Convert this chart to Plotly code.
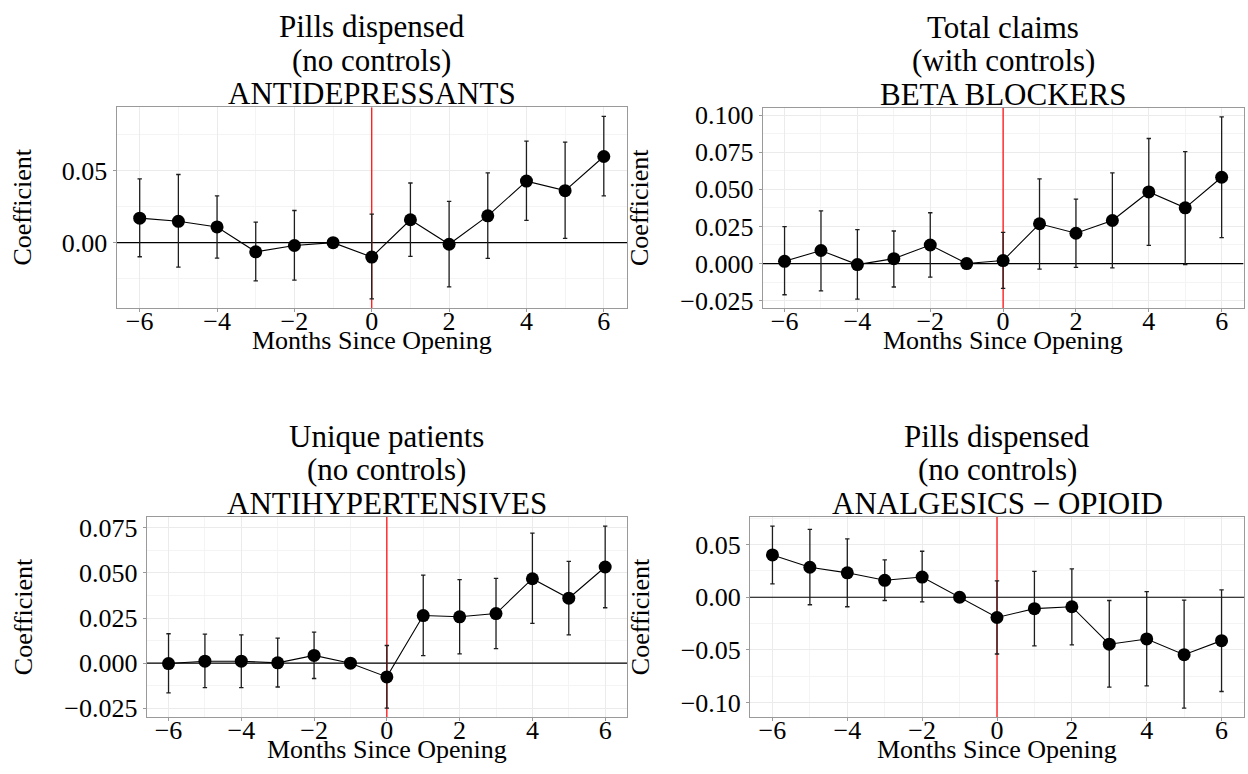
import numpy as np
import plotly.graph_objects as go

# ---------------- data ----------------
MONTHS = [-6, -5, -4, -3, -2, -1, 0, 1, 2, 3, 4, 5, 6]

# Panel 1: Pills dispensed (no controls) ANTIDEPRESSANTS
AD_COEF = [0.0170, 0.0148, 0.0109, -0.0064, -0.0020, 0.0, -0.0100, 0.0159, -0.0011, 0.0186, 0.0427, 0.0361, 0.0598]
AD_LOW = [-0.0098, -0.0170, -0.0107, -0.0266, -0.0260, None, -0.0390, -0.0095, -0.0307, -0.0109, 0.0155, 0.0030, 0.0325]
AD_HIGH = [0.0443, 0.0473, 0.0325, 0.0143, 0.0223, None, 0.0198, 0.0414, 0.0286, 0.0484, 0.0705, 0.0698, 0.0877]

# Panel 2: Total claims (with controls) BETA BLOCKERS
BB_COEF = [0.0015, 0.0088, -0.0007, 0.0033, 0.0125, 0.0, 0.0020, 0.0268, 0.0204, 0.0290, 0.0482, 0.0375, 0.0581]
BB_LOW = [-0.0210, -0.0184, -0.0239, -0.0158, -0.0092, None, -0.0167, -0.0037, -0.0026, -0.0029, 0.0123, -0.0007, 0.0175]
BB_HIGH = [0.0248, 0.0355, 0.0228, 0.0219, 0.0342, None, 0.0210, 0.0570, 0.0434, 0.0610, 0.0842, 0.0754, 0.0987]

# Panel 3: Unique patients (no controls) ANTIHYPERTENSIVES
AH_COEF = [-0.0002, 0.0011, 0.0011, 0.0002, 0.0043, 0.0, -0.0076, 0.0264, 0.0257, 0.0275, 0.0468, 0.0360, 0.0533]
AH_LOW = [-0.0164, -0.0136, -0.0136, -0.0132, -0.0085, None, -0.0249, 0.0042, 0.0051, 0.0081, 0.0220, 0.0157, 0.0307]
AH_HIGH = [0.0163, 0.0161, 0.0157, 0.0139, 0.0172, None, 0.0098, 0.0488, 0.0463, 0.0470, 0.0721, 0.0564, 0.0759]

# Panel 4: Pills dispensed (no controls) ANALGESICS - OPIOID
OP_COEF = [0.0402, 0.0285, 0.0232, 0.0161, 0.0192, 0.0, -0.0192, -0.0108, -0.0090, -0.0446, -0.0396, -0.0545, -0.0412]
OP_LOW = [0.0127, -0.0071, -0.0090, -0.0031, -0.0043, None, -0.0539, -0.0461, -0.0452, -0.0854, -0.0842, -0.1053, -0.0895]
OP_HIGH = [0.0675, 0.0644, 0.0554, 0.0356, 0.0437, None, 0.0155, 0.0245, 0.0269, -0.0031, 0.0053, -0.0028, 0.0071]

TITLE_OUTCOME = ["Pills dispensed", "Total claims", "Unique patients", "Pills dispensed"]
TITLE_CONTROLS = ["(no controls)", "(with controls)", "(no controls)", "(no controls)"]
TITLE_DRUG = ["ANTIDEPRESSANTS", "BETA BLOCKERS", "ANTIHYPERTENSIVES", "ANALGESICS \u2212 OPIOID"]

X_TICKS = [-6, -4, -2, 0, 2, 4, 6]
Y_DTICK = [0.05, 0.025, 0.025, 0.05]
Y_FORMAT = [".2f", ".3f", ".3f", ".2f"]
EVENT_MONTH = 0
BASELINE = 0.0
X_LABEL = "Months Since Opening"
Y_LABEL = "Coefficient"

PANELS = [
    (AD_COEF, AD_LOW, AD_HIGH),
    (BB_COEF, BB_LOW, BB_HIGH),
    (AH_COEF, AH_LOW, AH_HIGH),
    (OP_COEF, OP_LOW, OP_HIGH),
]

# ---------------- layout geometry (pixels) ----------------
W, H = 1248, 774
# (left, right, top, bottom) of each plotting panel
BOXES = [
    (116.5, 627.0, 102.0, 306.5),
    (762.7, 1243.5, 102.7, 306.7),
    (146.7, 627.0, 519.5, 723.3),
    (750.0, 1244.0, 519.5, 723.3),
]
YLAB_X = [23, 640, 23, 640]

FONT = "Liberation Serif, Times New Roman, serif"
GRID = "#ebebeb"
MINOR = "#f4f4f4"
BORDER = "#9a9a9a"


def px_x(v):
    return v / W


def px_y(v):
    return 1 - v / H


def nan(lst):
    return np.array([np.nan if v is None else v for v in lst], dtype=float)


fig = go.Figure()
annotations = []
layout = {}

for i, ((coef, low, high), (l, r, t, b)) in enumerate(zip(PANELS, BOXES)):
    n = i + 1
    xa = "x" if n == 1 else f"x{n}"
    ya = "y" if n == 1 else f"y{n}"
    xkey = "xaxis" if n == 1 else f"xaxis{n}"
    ykey = "yaxis" if n == 1 else f"yaxis{n}"

    c = np.array(coef, dtype=float)
    lo = nan(low)
    hi = nan(high)

    # ggplot-like 5% expansion of the data range
    ymin = np.nanmin(np.concatenate([lo, c]))
    ymax = np.nanmax(np.concatenate([hi, c]))
    pad = 0.05 * (ymax - ymin)
    xmin, xmax = min(MONTHS), max(MONTHS)
    xpad = 0.05 * (xmax - xmin)
    xr = [xmin - xpad, xmax + xpad]
    yr = [ymin - pad, ymax + pad]

    # reference lines (drawn first, under the estimates)
    fig.add_trace(go.Scatter(
        x=xr, y=[BASELINE, BASELINE], xaxis=xa, yaxis=ya, mode="lines",
        line=dict(color="black", width=1.2), showlegend=False, hoverinfo="skip"))
    fig.add_trace(go.Scatter(
        x=[EVENT_MONTH, EVENT_MONTH], y=yr, xaxis=xa, yaxis=ya, mode="lines",
        line=dict(color="red", width=1.2), showlegend=False, hoverinfo="skip"))

    fig.add_trace(go.Scatter(
        x=MONTHS, y=c, xaxis=xa, yaxis=ya,
        mode="lines+markers",
        line=dict(color="black", width=1.1),
        marker=dict(color="black", size=13),
        error_y=dict(type="data", symmetric=False,
                     array=hi - c, arrayminus=c - lo,
                     color="#1e1e1e", thickness=1.3, width=2.2),
        showlegend=False, hoverinfo="x+y",
    ))

    axis_common = dict(
        showline=True, mirror=True, linecolor=BORDER, linewidth=1,
        ticks="outside", ticklen=3, tickcolor=BORDER, tickwidth=1,
        showgrid=True, gridcolor=GRID, gridwidth=1,
        zeroline=False,
        tickfont=dict(family=FONT, size=26, color="black"),
    )
    layout[xkey] = dict(
        axis_common,
        domain=[px_x(l), px_x(r)], anchor=ya,
        range=xr,
        tickmode="array", tickvals=X_TICKS,
        ticklabelstandoff=-13,
        minor=dict(dtick=1, tick0=0, showgrid=True, gridcolor=MINOR, gridwidth=1),
    )
    dt = Y_DTICK[i]
    layout[ykey] = dict(
        axis_common,
        domain=[px_y(b), px_y(t)], anchor=xa,
        range=yr,
        tick0=0, dtick=dt, tickformat=Y_FORMAT[i],
        minor=dict(dtick=dt / 2, tick0=0, showgrid=True, gridcolor=MINOR, gridwidth=1),
    )

    cx = (l + r) / 2
    # three-line panel title
    for text, off in zip([TITLE_OUTCOME[i], TITLE_CONTROLS[i], TITLE_DRUG[i]], [82, 48, 14]):
        annotations.append(dict(
            text=text, xref="paper", yref="paper",
            x=px_x(cx), y=px_y(t - off), xanchor="center", yanchor="middle",
            showarrow=False, font=dict(family=FONT, size=31, color="black"),
        ))
    # x axis label
    annotations.append(dict(
        text=X_LABEL, xref="paper", yref="paper",
        x=px_x(cx), y=px_y(b + 33), xanchor="center", yanchor="middle",
        showarrow=False, font=dict(family=FONT, size=26, color="black"),
    ))
    # y axis label
    annotations.append(dict(
        text=Y_LABEL, xref="paper", yref="paper", textangle=-90,
        x=px_x(YLAB_X[i]), y=px_y((t + b) / 2), xanchor="center", yanchor="middle",
        showarrow=False, font=dict(family=FONT, size=26, color="black"),
    ))

fig.update_layout(
    width=W, height=H,
    margin=dict(l=0, r=0, t=0, b=0),
    paper_bgcolor="white", plot_bgcolor="white",
    annotations=annotations,
    font=dict(family=FONT, color="black"),
    **layout,
)

fig.write_html(
    "out.html",
    config={"displayModeBar": False},
    post_script="document.body.style.margin='0';document.body.style.overflow='hidden';",
)
